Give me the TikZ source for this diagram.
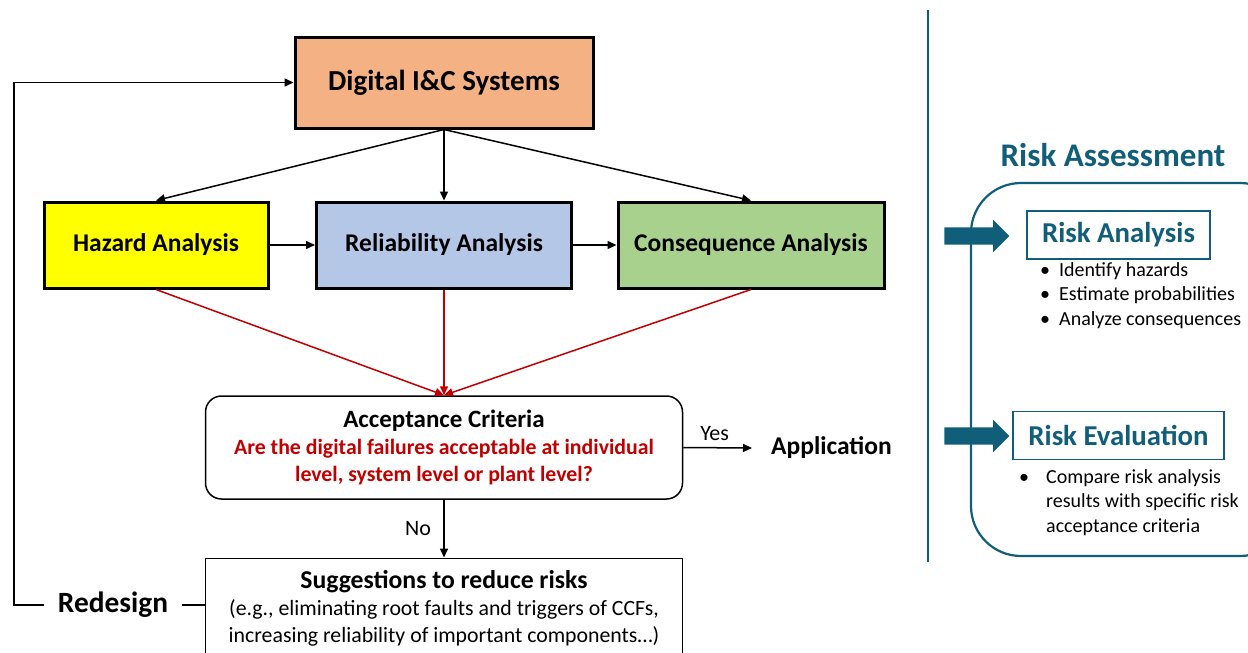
\documentclass[tikz,border=0pt]{standalone}
\usepackage{fontspec}
\setmainfont{Carlito}
\usetikzlibrary{arrows.meta,shapes.arrows}
\definecolor{dicorange}{HTML}{F4B183}
\definecolor{hazyellow}{HTML}{FFFF00}
\definecolor{relblue}{HTML}{B4C7E7}
\definecolor{congreen}{HTML}{A9D18E}
\definecolor{accred}{HTML}{C00000}
\definecolor{riskteal}{HTML}{105E7A}
\begin{document}
\begin{tikzpicture}[
	x=1pt,y=-1pt,
	font=\fontsize{22}{26}\selectfont,
	>={Triangle[length=9pt,width=8pt]},
	flow/.style={->,line width=1.5pt},
	redflow/.style={->,line width=1.5pt,accred},
	blk/.style={draw,line width=3pt,inner sep=0pt,minimum height=86pt,font=\fontsize{25.5}{30}\selectfont\bfseries},
	crit/.style={draw,line width=1.5pt,rounded corners=16pt,inner sep=0pt,align=center,
		minimum width=477pt,minimum height=103pt,font=\fontsize{21.8}{27}\selectfont\bfseries},
	sugg/.style={draw,line width=1pt,inner sep=0pt,align=center,
		minimum width=477pt,minimum height=100pt,font=\fontsize{21.8}{27}\selectfont},
	riskbox/.style={draw=riskteal,line width=1.2pt,inner sep=0pt,text=riskteal,
		minimum height=48pt,font=\fontsize{28.8}{32}\selectfont\bfseries},
	bigarrow/.style={single arrow,fill=riskteal,inner xsep=0pt,inner ysep=8.5pt,minimum height=65pt,
		single arrow head extend=7.5pt},
	bullets/.style={align=left,inner sep=0pt,anchor=north west,font=\fontsize{20}{24.5}\selectfont},
	]
\useasboundingbox (0,0) rectangle (1248,653);

% flow chart
\node [blk,fill=dicorange,minimum width=298pt,minimum height=91pt,font=\fontsize{29}{34}\selectfont\bfseries]
	(dig) at (444,82.5) {Digital I\&C Systems};
\node [blk,fill=hazyellow,minimum width=224pt] (haz) at (156,245) {Hazard Analysis};
\node [blk,fill=relblue,minimum width=255pt] (rel) at (444,245) {Reliability Analysis};
\node [blk,fill=congreen,minimum width=266pt] (con) at (751,245) {Consequence Analysis};

\node [crit] (acc) at (444,447.5) {{\fontsize{25}{27}\selectfont Acceptance Criteria}\\
	\textcolor{accred}{Are the digital failures acceptable at individual}\\
	\textcolor{accred}{level, system level or plant level?}};
\node [font=\fontsize{25.5}{30}\selectfont\bfseries,anchor=west,inner xsep=19pt] (app) at (752,448) {Application};

\node [sugg] (sug) at (444,608) {\textbf{\fontsize{25.7}{27}\selectfont Suggestions to reduce risks}\\
	(e.g., eliminating root faults and triggers of CCFs,\\
	increasing reliability of important components\dots)};
\node [font=\fontsize{29.4}{34}\selectfont\bfseries,inner xsep=14pt] (redes) at (113,605) {Redesign};
\coordinate (loop) at (14,605);

\draw [flow] (dig.south) -- (haz.north);
\draw [flow] (dig.south) -- (rel.north);
\draw [flow] (dig.south) -- (con.north);
\draw [flow] (haz.east) -- (rel.west);
\draw [flow] (rel.east) -- (con.west);
\draw [redflow] (haz.south) -- (acc.north);
\draw [redflow] (rel.south) -- (acc.north);
\draw [redflow] (con.south) -- (acc.north);
\draw [flow] (acc.east) -- node [above=3pt,xshift=-3pt] {Yes} (app.west);
\draw [flow] (acc.south) -- node [left=9pt] {No} (sug.north);
\draw [line width=1.5pt] (redes.east -| sug.west) -- (redes.east);
\draw [flow] (redes.west) -- (loop) |- (dig.west);

% risk assessment
\draw [riskteal,line width=2pt] (928,10) -- (928,562);
\node [text=riskteal,font=\fontsize{33}{38}\selectfont\bfseries] (title) at (1113,155) {Risk Assessment};
\draw [riskteal,line width=2.2pt,rounded corners=50pt] (971,183) rectangle (1290,556);

\node [riskbox,minimum width=183pt] (ana) at (1118.5,235) {Risk Analysis};
\node [bullets] (anatext) at (1040,262) {\textbullet\hspace{9pt}Identify hazards\\
	\textbullet\hspace{9pt}Estimate probabilities\\
	\textbullet\hspace{9pt}Analyze consequences};
\node [riskbox,minimum width=211pt] (eva) at (1118.5,435.5) {Risk Evaluation};
\node [bullets] (evatext) at (1019,466) {\begin{tabular}{@{}l@{\hspace{17pt}}l@{}}
	\textbullet & Compare risk analysis\\
	& results with specific risk\\
	& acceptance criteria\end{tabular}};

\node [bigarrow] (arrana) at (972.5,236) {};
\node [bigarrow] (arreva) at (972.5,436) {};
\end{tikzpicture}
\end{document}
